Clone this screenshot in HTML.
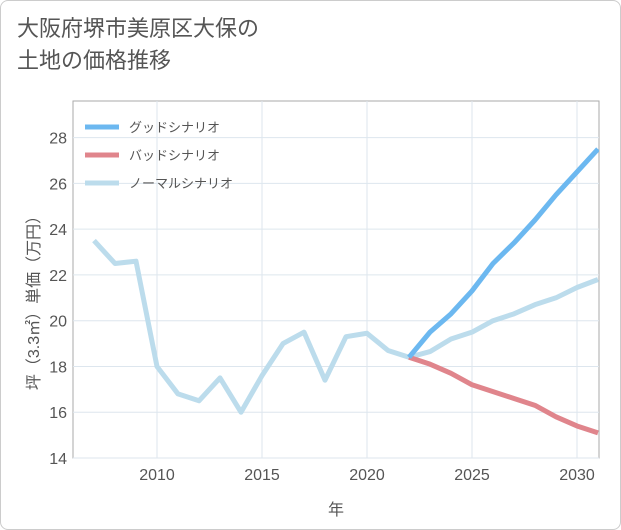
<!DOCTYPE html>
<html><head><meta charset="utf-8"><style>
body{margin:0;background:#fff;font-family:"Liberation Sans","Noto Sans CJK JP",sans-serif;}
#wrap{position:relative;width:619px;height:528px;border:1px solid #ccc;border-radius:8px;background:#fff;overflow:hidden}
#title{position:absolute;left:16px;top:12px;font-size:22px;line-height:32px;color:#555;margin:0;font-weight:normal}
svg{position:absolute;left:0;top:0}
</style></head><body>
<div id="wrap">
<h1 id="title">大阪府堺市美原区大保の<br>土地の価格推移</h1>
<svg id="chart" width="621" height="530"></svg>
</div>
<script>
const normalYears=[2007,2008,2009,2010,2011,2012,2013,2014,2015,2016,2017,2018,2019,2020,2021,2022,2023,2024,2025,2026,2027,2028,2029,2030,2031];
const normalVals=[23.5,22.5,22.6,18.0,16.8,16.5,17.5,16.0,17.6,19.0,19.5,17.4,19.3,19.45,18.7,18.4,18.65,19.2,19.5,20.0,20.3,20.7,21.0,21.45,21.8];
const futureYears=[2022,2023,2024,2025,2026,2027,2028,2029,2030,2031];
const goodVals=[18.4,19.5,20.3,21.3,22.5,23.4,24.4,25.5,26.5,27.5];
const badVals=[18.4,18.1,17.7,17.2,16.9,16.6,16.3,15.8,15.4,15.1];
const yTicks=[14,16,18,20,22,24,26,28];
const xTicks=[2010,2015,2020,2025,2030];
const legendLabels=["グッドシナリオ","バッドシナリオ","ノーマルシナリオ"];
const colors=["#6cb8f0","#e0858c","#bcdcec"];

const L=72,R=598,T=100,B=457;
const x=y=>156+(y-2010)*21;
const yy=v=>457-(v-14)*(357/15.6);
const svg=document.getElementById('chart');
const NS='http://www.w3.org/2000/svg';
function mk(t,a){const e=document.createElementNS(NS,t);for(const k in a)e.setAttribute(k,a[k]);svg.appendChild(e);return e;}
let e=mk('rect',{x:L,y:T,width:R-L,height:B-T,fill:'#fff',stroke:'#aaa','stroke-width':1});

yTicks.forEach(v=>{
 let g=mk('line',{x1:L,x2:R,y1:yy(v),y2:yy(v),stroke:'#dde6ee'});
 
 let t=mk('text',{x:L-6,y:yy(v)+6,'text-anchor':'end','font-size':16,fill:'#555'});t.textContent=v;
 
});
xTicks.forEach(v=>{
 let g=mk('line',{x1:x(v),x2:x(v),y1:T,y2:B,stroke:'#dde6ee'});
 
 let t=mk('text',{x:x(v),y:B+22,'text-anchor':'middle','font-size':16,fill:'#555'});t.textContent=v;
 
});
let xt=mk('text',{x:335,y:514,'text-anchor':'middle','font-size':16,fill:'#555'});xt.textContent='年';

let ytl=mk('text',{x:0,y:0,'text-anchor':'middle','font-size':16,fill:'#555',transform:'translate(38,298) rotate(-90)'});ytl.textContent='坪（3.3㎡）単価（万円）';

const cp=mk('clipPath',{id:'c'});const cr=document.createElementNS(NS,'rect');
cr.setAttribute('x',L);cr.setAttribute('y',T);cr.setAttribute('width',R-L);cr.setAttribute('height',B-T);cp.appendChild(cr);
function line(xs,vs,c,name){
 let p=mk('polyline',{points:xs.map((a,i)=>x(a)+','+yy(vs[i])).join(' '),fill:'none',stroke:c,'stroke-width':5,'stroke-linejoin':'round','clip-path':'url(#c)'});
 
}
line(normalYears,normalVals,colors[2],'normal-scenario-line');
line(futureYears,badVals,colors[1],'bad-scenario-line');
line(futureYears,goodVals,colors[0],'good-scenario-line');
legendLabels.forEach((s,i)=>{
 let ly=126+i*28;
 let l=mk('line',{x1:84,x2:118,y1:ly,y2:ly,stroke:colors[i],'stroke-width':5});
 
 let t=mk('text',{x:128,y:ly+5,'font-size':13,fill:'#555'});t.textContent=s;
 
});
</script>
</body></html>
